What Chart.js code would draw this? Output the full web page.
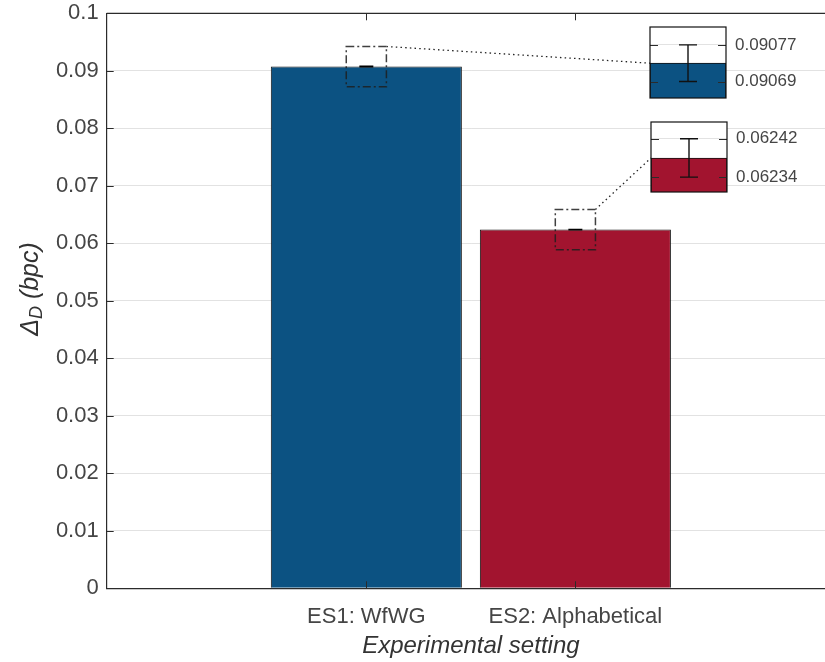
<!DOCTYPE html>
<html>
<head>
<meta charset="utf-8">
<script src="https://cdn.jsdelivr.net/npm/chart.js@4/dist/chart.umd.min.js"></script>
<style>
  html, body { margin: 0; padding: 0; background: #fff; overflow: hidden; }
  #wrap { position: relative; width: 825px; height: 662px; overflow: hidden; }
  .box { position: absolute; }
</style>
</head>
<body>
<div id="wrap">
  <div class="box" style="left:0;top:0;width:840px;height:662px"><canvas id="main"></canvas></div>
  <div class="box" style="left:649px;top:26px;width:160px;height:73px"><canvas id="inset1"></canvas></div>
  <div class="box" style="left:650px;top:121px;width:160px;height:72px"><canvas id="inset2"></canvas></div>
</div>
<script>
// ---------------- data ----------------
const categories = ['ES1: WfWG', 'ES2: Alphabetical'];
const categoryX = [1, 2];
const barValues = [0.09073, 0.06238];
const errLower = [0.09069, 0.06234];
const errUpper = [0.09077, 0.06242];
const yTicks = [0, 0.01, 0.02, 0.03, 0.04, 0.05, 0.06, 0.07, 0.08, 0.09, 0.1];
const yTickLabels = ['0', '0.01', '0.02', '0.03', '0.04', '0.05', '0.06', '0.07', '0.08', '0.09', '0.1'];
const xRange = [-0.242, 3.242];
const insetMin = [0.090654, 0.062309];
const insetMax = [0.090809, 0.062455];
const zoomHalfHeight = 0.0035;
const zoomHalfWidth = 0.096;

// ---------------- styles ----------------
const barColors = ['#0c5282', '#a2142f'];
const FONT = "'Liberation Sans', Arial, Helvetica, sans-serif";
const TXT = '#454545';
const AXIS = '#2b2b2b';
const GRID = '#e2e2e2';

// ---------------- insets ----------------
const insetPlugin = {
  id: 'insetDecor',
  beforeDraw(chart) {
    const a = chart.chartArea, ctx = chart.ctx;
    ctx.save(); ctx.fillStyle = '#fff';
    ctx.fillRect(a.left, a.top, a.right - a.left, a.bottom - a.top);
    ctx.restore();
  },
  afterDatasetsDraw(chart) {
    const i = chart.options.plugins.insetDecor.index;
    const a = chart.chartArea, ctx = chart.ctx, ys = chart.scales.y;
    const bar = chart.getDatasetMeta(0).data[0];
    const cx = bar.x;
    const yl = ys.getPixelForValue(errLower[i]);
    const yh = ys.getPixelForValue(errUpper[i]);
    ctx.save();
    ctx.strokeStyle = AXIS; ctx.lineWidth = 1;
    [errLower[i], errUpper[i]].forEach(v => {
      const y = Math.round(ys.getPixelForValue(v)) + 0.5;
      ctx.beginPath();
      ctx.moveTo(a.left, y); ctx.lineTo(a.left + 8, y);
      ctx.moveTo(a.right, y); ctx.lineTo(a.right - 8, y);
      ctx.stroke();
    });
    ctx.strokeStyle = '#111'; ctx.lineWidth = 1.4;
    ctx.beginPath();
    ctx.moveTo(cx, yl); ctx.lineTo(cx, yh);
    ctx.moveTo(cx - 9, yl); ctx.lineTo(cx + 9, yl);
    ctx.moveTo(cx - 9, yh); ctx.lineTo(cx + 9, yh);
    ctx.stroke();
    ctx.strokeStyle = '#111'; ctx.lineWidth = 1.2;
    ctx.strokeRect(a.left, a.top, a.right - a.left, a.bottom - a.top);
    ctx.restore();
  }
};

function makeInset(i, id) {
  return new Chart(document.getElementById(id), {
    type: 'bar',
    data: {
      labels: [categories[i]],
      datasets: [{
        data: [barValues[i]],
        backgroundColor: barColors[i],
        borderColor: '#111',
        borderWidth: 1,
        borderSkipped: 'start',
        barPercentage: 1,
        categoryPercentage: 1
      }]
    },
    plugins: [insetPlugin],
    options: {
      responsive: true, maintainAspectRatio: false, animation: false,
      layout: { padding: { left: 1, top: 1, right: 0, bottom: 1 } },
      plugins: { legend: { display: false }, tooltip: { enabled: false }, insetDecor: { index: i } },
      scales: {
        x: { display: false },
        y: {
          position: 'right',
          min: insetMin[i], max: insetMax[i],
          grid: { color: GRID, drawTicks: false },
          border: { display: false },
          afterBuildTicks: s => { s.ticks = [{ value: errLower[i] }, { value: errUpper[i] }]; },
          afterFit: s => { s.width = 160 - 1 - 76; s.paddingTop = 0; s.paddingBottom = 0; },
          ticks: {
            padding: 9, color: TXT, font: { family: FONT, size: 17 },
            callback: v => Number(v).toFixed(5)
          }
        }
      }
    }
  });
}
const insets = [makeInset(0, 'inset1'), makeInset(1, 'inset2')];

// ---------------- main chart ----------------
const mainPlugin = {
  id: 'mainDecor',
  afterDatasetsDraw(chart) {
    const a = chart.chartArea, ctx = chart.ctx;
    const xs = chart.scales.x, ys = chart.scales.y;
    ctx.save();
    ctx.strokeStyle = AXIS; ctx.lineWidth = 1.2;
    ctx.beginPath(); ctx.moveTo(a.left, a.top); ctx.lineTo(a.right, a.top); ctx.lineTo(a.right, a.bottom); ctx.stroke();
    ctx.lineWidth = 1;
    yTicks.forEach(v => {
      const y = Math.round(ys.getPixelForValue(v)) + 0.5;
      ctx.beginPath();
      ctx.moveTo(a.left, y); ctx.lineTo(a.left + 7, y);
      ctx.moveTo(a.right, y); ctx.lineTo(a.right - 7, y);
      ctx.stroke();
    });
    categoryX.forEach(v => {
      const x = Math.round(xs.getPixelForValue(v)) + 0.5;
      ctx.beginPath();
      ctx.moveTo(x, a.bottom); ctx.lineTo(x, a.bottom - 7);
      ctx.moveTo(x, a.top); ctx.lineTo(x, a.top + 7);
      ctx.stroke();
    });
    ctx.strokeStyle = '#000'; ctx.lineWidth = 1.5;
    categoryX.forEach((v, i) => {
      const x = xs.getPixelForValue(v);
      const yl = ys.getPixelForValue(errLower[i]);
      const yh = ys.getPixelForValue(errUpper[i]);
      ctx.beginPath();
      ctx.moveTo(x, yl); ctx.lineTo(x, yh);
      ctx.moveTo(x - 7, yl); ctx.lineTo(x + 7, yl);
      ctx.moveTo(x - 7, yh); ctx.lineTo(x + 7, yh);
      ctx.stroke();
    });
    const mainRect = chart.canvas.getBoundingClientRect();
    categoryX.forEach((v, i) => {
      const x0 = xs.getPixelForValue(v - zoomHalfWidth);
      const x1 = xs.getPixelForValue(v + zoomHalfWidth);
      const y0 = ys.getPixelForValue(barValues[i] + zoomHalfHeight);
      const y1 = ys.getPixelForValue(barValues[i] - zoomHalfHeight);
      ctx.strokeStyle = 'rgba(30,30,30,0.85)'; ctx.lineWidth = 1.5;
      ctx.setLineDash([8, 3, 2, 3]);
      ctx.strokeRect(x0, y0, x1 - x0, y1 - y0);
      const ic = insets[i];
      const r = ic.canvas.getBoundingClientRect();
      const tx = r.left - mainRect.left + ic.chartArea.left;
      const ty = r.top - mainRect.top + ic.scales.y.getPixelForValue(barValues[i]);
      ctx.strokeStyle = '#222'; ctx.lineWidth = 1.3;
      ctx.setLineDash([1.5, 3.2]);
      ctx.beginPath(); ctx.moveTo(x1, y0); ctx.lineTo(tx, ty); ctx.stroke();
    });
    ctx.setLineDash([]);
    ctx.restore();
  },
  afterDraw(chart) {
    const ctx = chart.ctx;
    const big = 'italic 25px ' + FONT, small = 'italic 18px ' + FONT;
    const parts = [['\u0394', big, 0], ['D', small, 6], [' (bpc)', big, 0]];
    ctx.save();
    let total = 0;
    parts.forEach(p => { ctx.font = p[1]; total += ctx.measureText(p[0]).width; });
    ctx.translate(31, 289);
    ctx.rotate(-Math.PI / 2);
    ctx.fillStyle = '#333';
    ctx.textBaseline = 'middle';
    let x = -total / 2;
    parts.forEach(p => { ctx.font = p[1]; ctx.fillText(p[0], x, p[2]); x += ctx.measureText(p[0]).width; });
    ctx.restore();
  }
};

new Chart(document.getElementById('main'), {
  type: 'bar',
  data: {
    datasets: [{
      data: categoryX.map((x, i) => ({ x: x, y: barValues[i] })),
      backgroundColor: barColors,
      borderColor: '#111',
      borderWidth: 1,
      barPercentage: 0.914,
      categoryPercentage: 1
    }]
  },
  plugins: [mainPlugin],
  options: {
    responsive: true, maintainAspectRatio: false, animation: false,
    layout: { padding: { left: 0, top: 13.3, right: 5, bottom: 0 } },
    plugins: { legend: { display: false }, tooltip: { enabled: false } },
    scales: {
      x: {
        type: 'linear', min: xRange[0], max: xRange[1],
        offset: false,
        grid: { display: false, offset: false },
        border: { display: true, color: AXIS, width: 1.2 },
        afterBuildTicks: s => { s.ticks = categoryX.map(v => ({ value: v })); },
        afterFit: s => { s.height = 662 - 588.3; s.paddingLeft = 0; s.paddingRight = 0; },
        ticks: {
          autoSkip: false, maxRotation: 0, padding: 7, color: TXT,
          font: { family: FONT, size: 22 },
          callback: (v, i) => categories[i]
        },
        title: {
          display: true, text: 'Experimental setting', color: '#333',
          font: { family: FONT, size: 24, style: 'italic' },
          padding: { top: 0, bottom: 1 }
        }
      },
      y: {
        min: 0, max: 0.1,
        grid: { color: GRID, drawTicks: false },
        border: { display: true, color: AXIS, width: 1.2 },
        afterBuildTicks: s => { s.ticks = yTicks.map(v => ({ value: v })); },
        afterFit: s => { s.width = 106.7; s.paddingTop = 0; s.paddingBottom = 0; },
        ticks: {
          padding: 8, color: TXT, font: { family: FONT, size: 22 },
          callback: (v, i) => yTickLabels[i]
        }
      }
    }
  }
});
</script>
</body>
</html>
